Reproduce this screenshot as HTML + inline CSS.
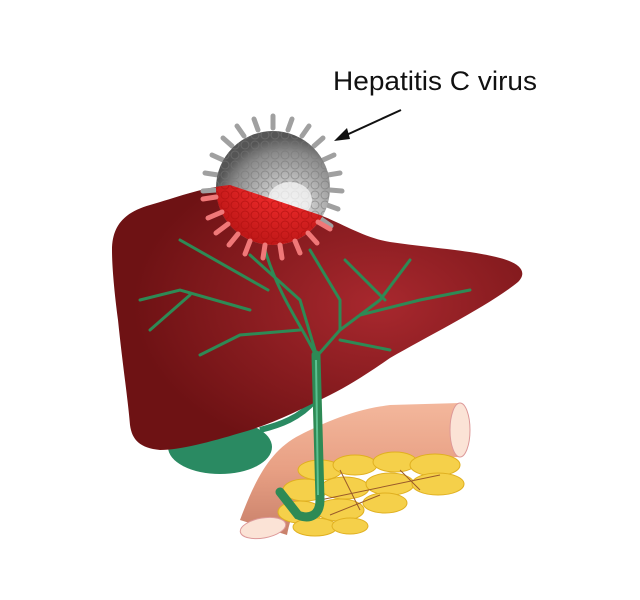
<!DOCTYPE html>
<html><head><style>body{margin:0;background:#fff}svg{display:block}</style></head><body>
<svg width="640" height="600" viewBox="0 0 640 600" xmlns="http://www.w3.org/2000/svg">
<defs>
<radialGradient id="lv" cx="0.65" cy="0.45" r="0.6"><stop offset="0" stop-color="#a8282e"/><stop offset="1" stop-color="#6e1214"/></radialGradient>
<linearGradient id="tb" x1="0" y1="0" x2="0" y2="1"><stop offset="0" stop-color="#f3b79c"/><stop offset="0.5" stop-color="#e8a084"/><stop offset="1" stop-color="#c8806a"/></linearGradient>
<radialGradient id="gv" cx="0.62" cy="0.7" r="0.65"><stop offset="0" stop-color="#f4f4f4"/><stop offset="0.3" stop-color="#cfcfcf"/><stop offset="0.8" stop-color="#8a8a8a"/><stop offset="1" stop-color="#555"/></radialGradient>
<radialGradient id="rv" cx="0.6" cy="0.3" r="0.7"><stop offset="0" stop-color="#ff8080"/><stop offset="0.4" stop-color="#ee2a2a"/><stop offset="1" stop-color="#c01818"/></radialGradient>
<clipPath id="lc"><path id="lp" d="M112,250 C112,225 125,212 150,205 C175,198 200,188 230,185 L320,215 C345,225 365,238 390,242 C430,248 470,250 500,258 C520,263 528,272 518,282 C490,305 430,335 390,358 C370,372 350,385 330,395 C300,410 270,425 240,433 C210,442 180,450 160,450 C140,448 132,440 130,425 C128,400 122,360 118,320 C114,290 112,265 112,250 Z"/></clipPath>
<pattern id="dots" width="10" height="10" patternUnits="userSpaceOnUse"><circle cx="5" cy="5" r="4" fill="none" stroke="#777" stroke-width="1" opacity="0.6"/></pattern>
<pattern id="rdots" width="10" height="10" patternUnits="userSpaceOnUse"><circle cx="5" cy="5" r="4" fill="none" stroke="#b01010" stroke-width="1" opacity="0.7"/></pattern>
</defs>
<text x="333" y="90" font-family="Liberation Sans, sans-serif" font-size="27" fill="#111" textLength="204" lengthAdjust="spacingAndGlyphs">Hepatitis C virus</text>
<line x1="401" y1="110" x2="342" y2="137" stroke="#111" stroke-width="2"/>
<path d="M334,141 L347,128 L350,139 Z" fill="#111"/>
<path d="M240,520 C255,480 270,450 300,435 C320,425 350,410 390,405 L460,403 L462,457 L390,458 C360,460 330,470 310,485 C300,495 292,510 287,535 Z" fill="url(#tb)"/>
<ellipse cx="460" cy="430" rx="10" ry="27" fill="#fbe3d6" stroke="#d99" stroke-width="1"/>
<ellipse cx="263" cy="528" rx="23" ry="10" transform="rotate(-10 263 528)" fill="#fbe3d6" stroke="#d99"/>
<g fill="#f5d04a" stroke="#e0b020" stroke-width="1">
<ellipse cx="320" cy="470" rx="22" ry="10"/><ellipse cx="355" cy="465" rx="22" ry="10"/><ellipse cx="395" cy="462" rx="22" ry="10"/><ellipse cx="435" cy="465" rx="25" ry="11"/>
<ellipse cx="305" cy="490" rx="22" ry="11"/><ellipse cx="345" cy="488" rx="24" ry="11"/><ellipse cx="390" cy="484" rx="24" ry="11"/><ellipse cx="438" cy="484" rx="26" ry="11"/>
<ellipse cx="300" cy="512" rx="22" ry="11"/><ellipse cx="340" cy="510" rx="24" ry="11"/><ellipse cx="385" cy="503" rx="22" ry="10"/>
<ellipse cx="315" cy="527" rx="22" ry="9"/><ellipse cx="350" cy="526" rx="18" ry="8"/>
</g>
<path d="M320,500 L440,475 M330,515 L380,495 M340,470 L360,510 M400,470 L420,490" stroke="#9a5a2a" stroke-width="1" fill="none"/>
<ellipse cx="220" cy="447" rx="52" ry="27" fill="#2a8a62"/>
<path d="M260,430 C280,425 300,418 315,400" stroke="#2a8a62" stroke-width="6" fill="none"/>
<use href="#lp" fill="url(#lv)"/>
<g stroke="#2e8a55" stroke-width="3" fill="none" stroke-linecap="round">
<path d="M318,360 C305,330 280,300 265,250 M318,360 L300,300 L250,255 M268,290 L180,240 M250,310 L180,290 L140,300 M190,295 L150,330 M300,330 L240,335 L200,355 M318,355 L340,330 L380,300 L410,260 M360,315 L420,300 L470,290 M340,340 L390,350 M340,330 L340,300 L310,250 M385,300 L345,260"/>
</g>
<path d="M316,355 L320,500 C320,515 310,520 298,515 L280,492" stroke="#2e8a55" stroke-width="9" fill="none" stroke-linecap="round"/>
<path d="M316,360 L318,495" stroke="#5cc090" stroke-width="2" fill="none"/>
<g>
<g stroke="#a0a0a0" stroke-width="5" stroke-linecap="round">
<line x1="273" y1="128" x2="273" y2="116"/><line x1="288" y1="130" x2="292" y2="119"/><line x1="258" y1="130" x2="254" y2="119"/>
<line x1="302" y1="136" x2="309" y2="126"/><line x1="244" y1="136" x2="237" y2="126"/>
<line x1="314" y1="146" x2="323" y2="138"/><line x1="232" y1="146" x2="223" y2="138"/>
<line x1="323" y1="160" x2="334" y2="155"/><line x1="223" y1="160" x2="212" y2="155"/>
<line x1="328" y1="175" x2="340" y2="173"/><line x1="218" y1="175" x2="205" y2="173"/>
<line x1="330" y1="190" x2="342" y2="191"/><line x1="216" y1="190" x2="203" y2="191"/>
<line x1="327" y1="205" x2="338" y2="209"/><line x1="321" y1="219" x2="331" y2="226"/>
</g>
<circle cx="273" cy="188" r="57" fill="url(#gv)"/>
<circle cx="273" cy="188" r="57" fill="url(#dots)"/>
<ellipse cx="290" cy="200" rx="22" ry="18" fill="#f2f2f2" opacity="0.8"/>
<g clip-path="url(#lc)">
<circle cx="273" cy="188" r="57" fill="url(#rv)"/>
<circle cx="273" cy="188" r="57" fill="url(#rdots)"/>
<g stroke="#f07878" stroke-width="5" stroke-linecap="round">
<line x1="222" y1="212" x2="208" y2="218"/><line x1="228" y1="224" x2="216" y2="233"/><line x1="238" y1="234" x2="229" y2="245"/><line x1="250" y1="241" x2="245" y2="254"/><line x1="265" y1="245" x2="263" y2="258"/><line x1="280" y1="245" x2="282" y2="258"/><line x1="295" y1="241" x2="300" y2="253"/><line x1="308" y1="233" x2="317" y2="243"/><line x1="318" y1="222" x2="330" y2="229"/>
<line x1="216" y1="197" x2="203" y2="199"/>
</g>
</g>
</g>
</svg>
</body></html>
